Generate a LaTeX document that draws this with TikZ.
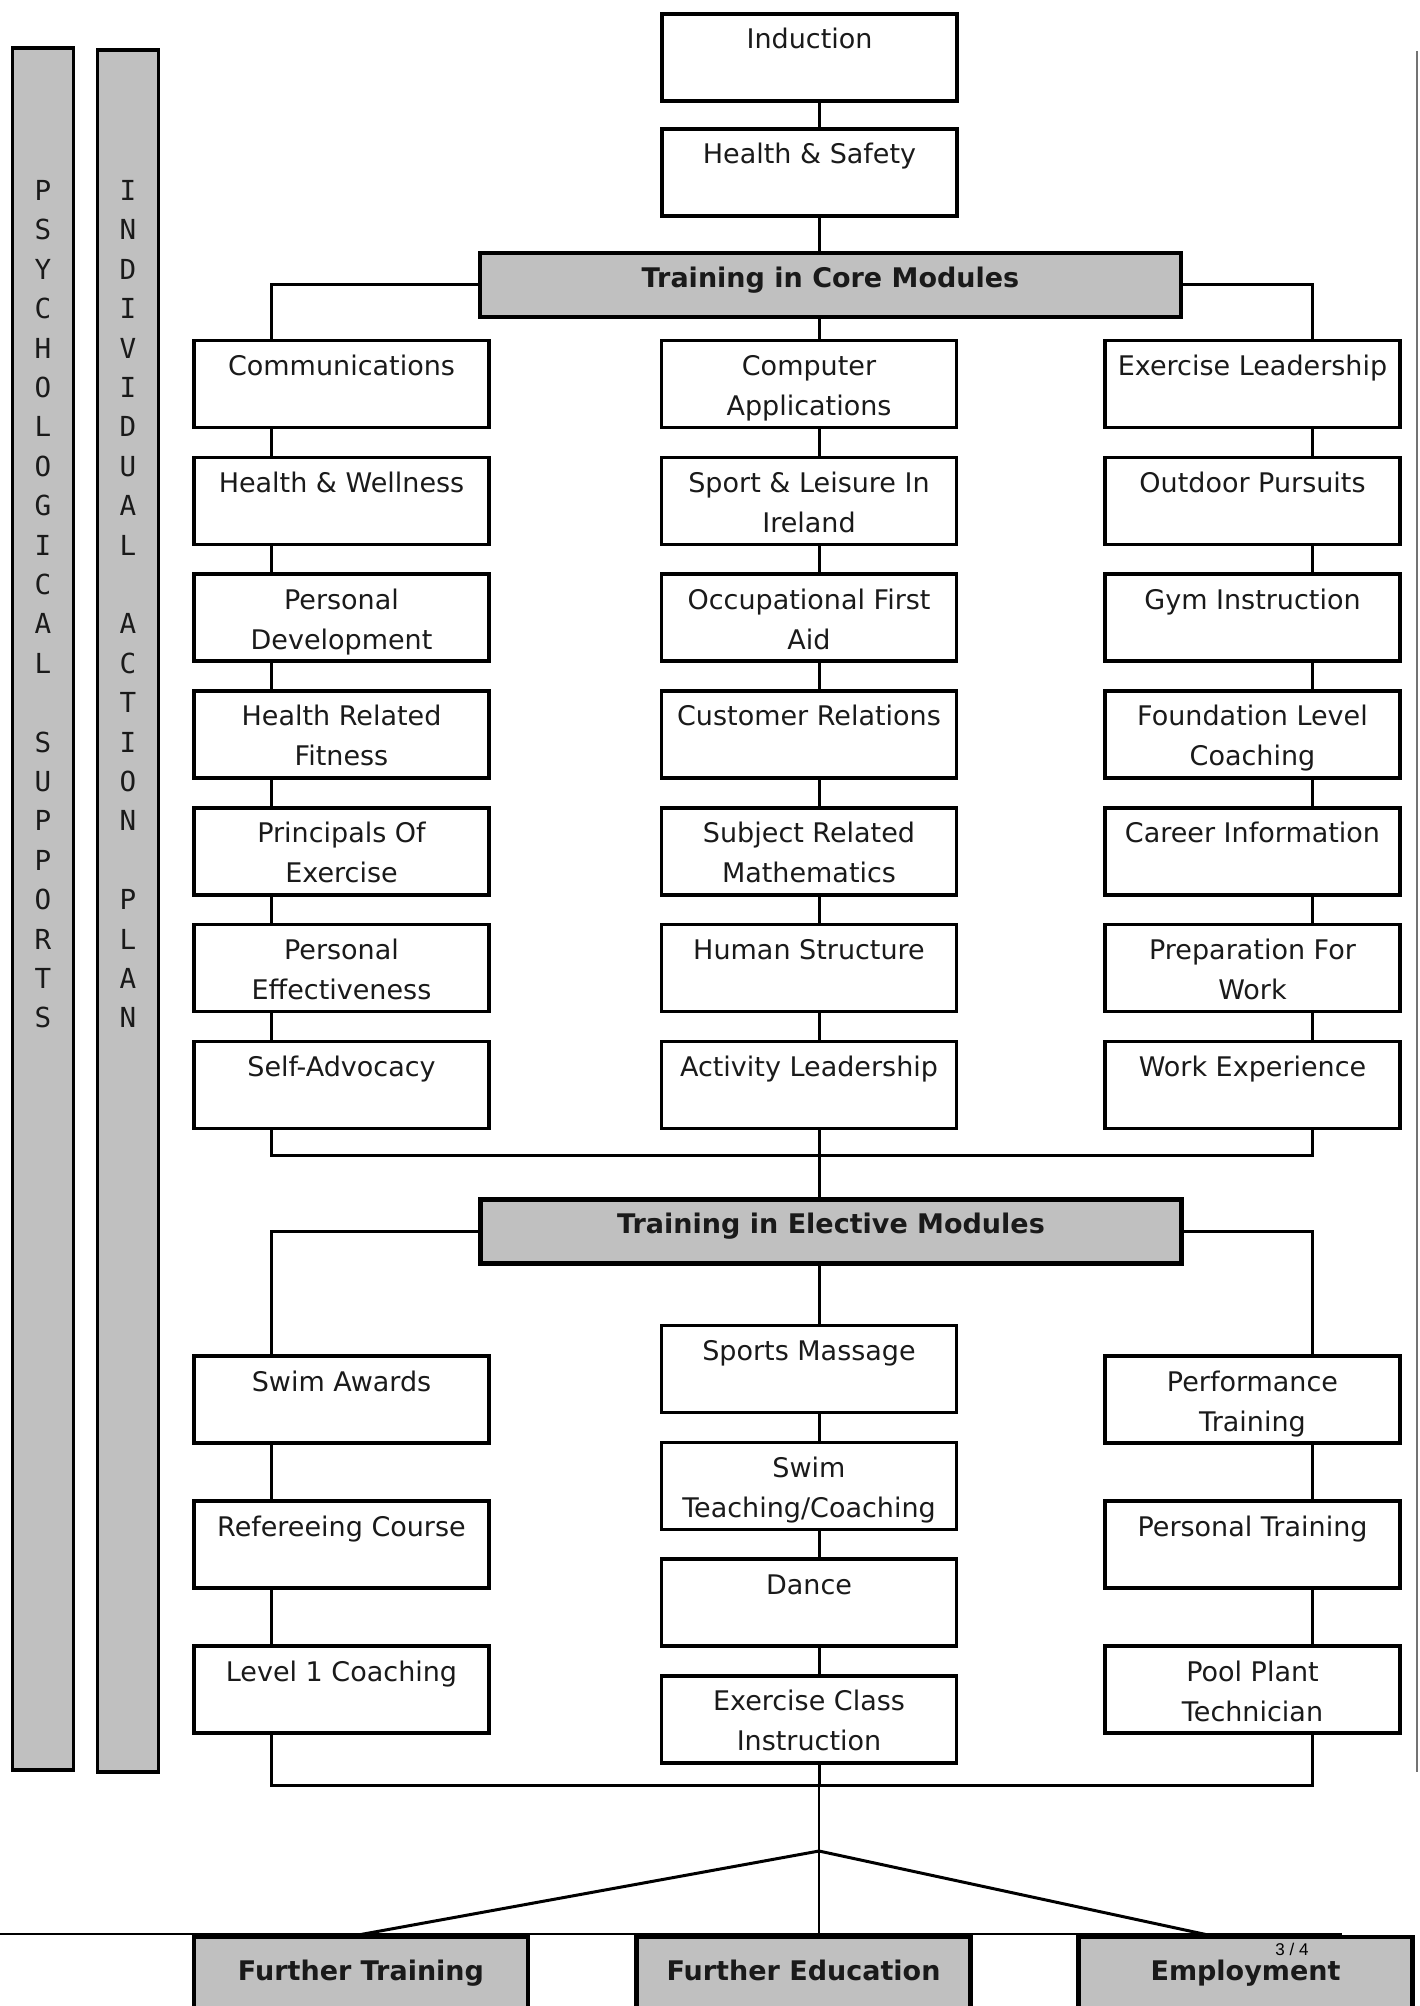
\documentclass[tikz,border=0pt]{standalone}
\usepackage{fontspec}
\setmainfont{DejaVu Sans}
\newfontfamily\barfont{DejaVu Sans Mono}
\newfontfamily\pagefont{Liberation Sans}
\usepackage{tikz}
\usetikzlibrary{positioning, calc}
\definecolor{chart-grey}{HTML}{C0C0C0}
\definecolor{chart-ink}{HTML}{1A1A1A}
\newcommand{\modtxt}[1]{\parbox[c][43.5pt][t]{145pt}{\centering\vspace*{7.2pt}\rule{0pt}{10.3pt}#1}}
\tikzset{
    modbox/.style={draw=black, line width=1.8pt, fill=white, text=chart-ink, inner sep=0pt, outer sep=0pt,
        minimum width=147.5pt, minimum height=43.5pt, font=\fontsize{13.5}{20}\selectfont},
    headbox/.style={draw=black, line width=2.2pt, fill=chart-grey, text=chart-ink, outer sep=0pt,
        minimum width=350.5pt, minimum height=32pt, text height=10.3pt, text depth=8pt,
        font=\bfseries\fontsize{13.5}{16}\selectfont},
    endbox/.style={draw=black, line width=2.2pt, fill=chart-grey, text=chart-ink, outer sep=0pt,
        minimum width=167pt, minimum height=36pt, text height=10.3pt, text depth=3.2pt,
        font=\bfseries\fontsize{13.5}{16}\selectfont},
    sidebar/.style={draw=black, line width=1.6pt, fill=chart-grey, outer sep=0pt, minimum width=30.5pt, minimum height=861pt},
    bartext/.style={text=chart-ink, align=center, inner sep=0pt, font=\barfont\fontsize{13.8}{19.7}\selectfont},
    link/.style={draw=black, line width=1.5pt},
    thinlink/.style={draw=black, line width=0.9pt}
}
\begin{document}
\begin{tikzpicture}[x=0.5pt, y=-0.5pt]
    \useasboundingbox (0,0) rectangle (1419,2006);

    % side bars
    \node (psy) [sidebar] at (43,909) {};
    \node (psytxt) [bartext, below=66pt of psy.north] {P\\S\\Y\\C\\H\\O\\L\\O\\G\\I\\C\\A\\L\\[19.7pt]S\\U\\P\\P\\O\\R\\T\\S};
    \node (iap) [sidebar] at (128,911) {};
    \node (iaptxt) [bartext, below=65pt of iap.north] {I\\N\\D\\I\\V\\I\\D\\U\\A\\L\\[19.7pt]A\\C\\T\\I\\O\\N\\[19.7pt]P\\L\\A\\N};

    % start
    \node (ind) [modbox] at (809.5,57.5) {\modtxt{Induction}};
    \node (hs) [modbox, below=14pt of ind] {\modtxt{Health \& Safety}};
    \node (core) [headbox] at (830.5,285) {Training in Core Modules};

    % core modules
    \node (comm) [modbox] at (341.5,384) {\modtxt{Communications}};
    \node (hw) [modbox, below=14.9pt of comm] {\modtxt{Health \& Wellness}};
    \node (pd) [modbox, below=14.9pt of hw] {\modtxt{Personal\\Development}};
    \node (hrf) [modbox, below=14.9pt of pd] {\modtxt{Health Related\\Fitness}};
    \node (poe) [modbox, below=14.9pt of hrf] {\modtxt{Principals Of\\Exercise}};
    \node (pe) [modbox, below=14.9pt of poe] {\modtxt{Personal\\Effectiveness}};
    \node (sa) [modbox, below=14.9pt of pe] {\modtxt{Self-Advocacy}};

    \node (comp) [modbox] at (809,384) {\modtxt{Computer\\Applications}};
    \node (sli) [modbox, below=14.9pt of comp] {\modtxt{Sport \& Leisure In\\Ireland}};
    \node (ofa) [modbox, below=14.9pt of sli] {\modtxt{Occupational First\\Aid}};
    \node (cr) [modbox, below=14.9pt of ofa] {\modtxt{Customer Relations}};
    \node (srm) [modbox, below=14.9pt of cr] {\modtxt{Subject Related\\Mathematics}};
    \node (hst) [modbox, below=14.9pt of srm] {\modtxt{Human Structure}};
    \node (actl) [modbox, below=14.9pt of hst] {\modtxt{Activity Leadership}};

    \node (exl) [modbox] at (1252.5,384) {\modtxt{Exercise Leadership}};
    \node (odp) [modbox, below=14.9pt of exl] {\modtxt{Outdoor Pursuits}};
    \node (gym) [modbox, below=14.9pt of odp] {\modtxt{Gym Instruction}};
    \node (flc) [modbox, below=14.9pt of gym] {\modtxt{Foundation Level\\Coaching}};
    \node (ci) [modbox, below=14.9pt of flc] {\modtxt{Career Information}};
    \node (pfw) [modbox, below=14.9pt of ci] {\modtxt{Preparation For\\Work}};
    \node (wexp) [modbox, below=14.9pt of pfw] {\modtxt{Work Experience}};

    % elective modules
    \node (elec) [headbox] at (831,1231.5) {Training in Elective Modules};

    \node (swim) [modbox] at (341.5,1399.5) {\modtxt{Swim Awards}};
    \node (ref) [modbox, below=29pt of swim] {\modtxt{Refereeing Course}};
    \node (lvl) [modbox, below=29pt of ref] {\modtxt{Level 1 Coaching}};

    \node (smass) [modbox] at (809,1369) {\modtxt{Sports Massage}};
    \node (stc) [modbox, below=14.9pt of smass] {\modtxt{Swim\\Teaching/Coaching}};
    \node (dance) [modbox, below=14.9pt of stc] {\modtxt{Dance}};
    \node (exc) [modbox, below=14.9pt of dance] {\modtxt{Exercise Class\\Instruction}};

    \node (perf) [modbox] at (1252.5,1399.5) {\modtxt{Performance\\Training}};
    \node (pt) [modbox, below=29pt of perf] {\modtxt{Personal Training}};
    \node (pool) [modbox, below=29pt of pt] {\modtxt{Pool Plant\\Technician}};

    % outcomes
    \node (ft) [endbox] at (361,1973) {Further Training};
    \node (fe) [endbox] at (803.5,1973) {Further Education};
    \node (emp) [endbox] at (1245.5,1973) {Employment};

    % connectors
    \coordinate (lx) at (271,0);
    \coordinate (mx) at (819,0);
    \coordinate (rx) at (1312,0);
    \coordinate (cbus) at (819,1155);
    \coordinate (ebus) at (819,1785);
    \coordinate (apex) at (819,1851);

    \draw [link] (ind.south -| mx) -- (hs.north -| mx) (hs.south -| mx) -- (core.north -| mx);
    \draw [link] (core.west) -| (comm.north -| lx);
    \draw [link] (core.east) -| (exl.north -| rx);
    \draw [link] (core.south -| mx) -- (comp.north -| mx);

    \draw [link] (comm.south -| lx) -- (hw.north -| lx) (hw.south -| lx) -- (pd.north -| lx)
        (pd.south -| lx) -- (hrf.north -| lx) (hrf.south -| lx) -- (poe.north -| lx)
        (poe.south -| lx) -- (pe.north -| lx) (pe.south -| lx) -- (sa.north -| lx);
    \draw [link] (comp.south -| mx) -- (sli.north -| mx) (sli.south -| mx) -- (ofa.north -| mx)
        (ofa.south -| mx) -- (cr.north -| mx) (cr.south -| mx) -- (srm.north -| mx)
        (srm.south -| mx) -- (hst.north -| mx) (hst.south -| mx) -- (actl.north -| mx);
    \draw [link] (exl.south -| rx) -- (odp.north -| rx) (odp.south -| rx) -- (gym.north -| rx)
        (gym.south -| rx) -- (flc.north -| rx) (flc.south -| rx) -- (ci.north -| rx)
        (ci.south -| rx) -- (pfw.north -| rx) (pfw.south -| rx) -- (wexp.north -| rx);

    \draw [link] (sa.south -| lx) |- (cbus) -| (wexp.south -| rx);
    \draw [link] (actl.south -| mx) -- (elec.north -| mx);

    \draw [link] (elec.west) -| (swim.north -| lx);
    \draw [link] (elec.east) -| (perf.north -| rx);
    \draw [link] (elec.south -| mx) -- (smass.north -| mx);

    \draw [link] (swim.south -| lx) -- (ref.north -| lx) (ref.south -| lx) -- (lvl.north -| lx);
    \draw [link] (smass.south -| mx) -- (stc.north -| mx) (stc.south -| mx) -- (dance.north -| mx)
        (dance.south -| mx) -- (exc.north -| mx);
    \draw [link] (perf.south -| rx) -- (pt.north -| rx) (pt.south -| rx) -- (pool.north -| rx);

    \draw [link] (lvl.south -| lx) |- (ebus) -| (pool.south -| rx);
    \draw [link] (exc.south -| mx) -- (ebus);
    \draw [thinlink] (ebus) -- (fe.north -| ebus);
    \draw [link] ($(ft.north)+(-14,0)$) -- (apex) -- ($(emp.north)+(-28,0)$);

    % page edges
    \draw [thinlink] (0,1934) -- (1342,1934);
    \draw [line width=0.8pt, black!55] (1417,51) -- (1417,1772);
    \node (pgno) [font=\pagefont\fontsize{8.5}{10}\selectfont, inner sep=0pt] at (1292,1949) {3 / 4};
\end{tikzpicture}
\end{document}
